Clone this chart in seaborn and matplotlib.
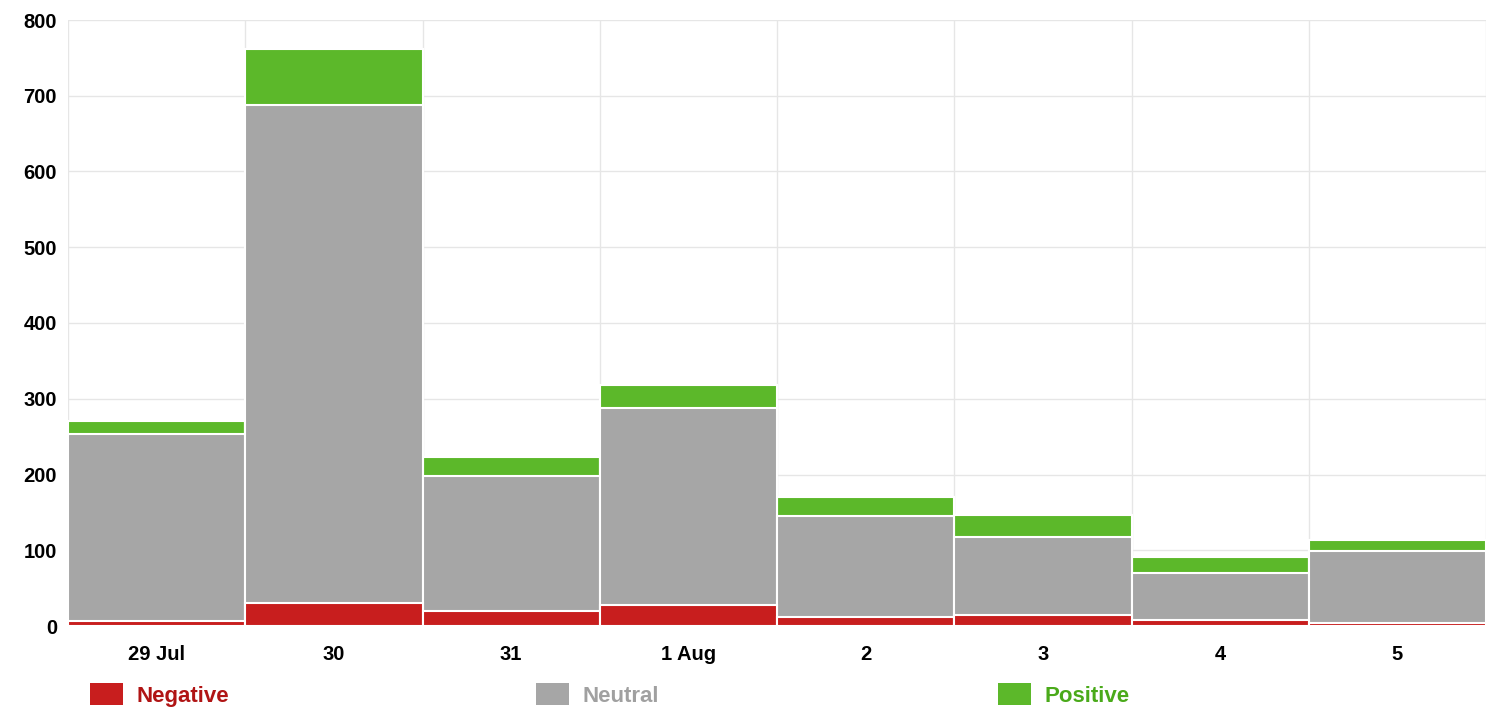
import numpy as np
import pandas as pd
import seaborn as sns
import matplotlib.pyplot as plt
from matplotlib.patches import Patch

days = ["29 Jul", "30", "31", "1 Aug", "2", "3", "4", "5"]
negative = [6, 30, 20, 28, 12, 15, 8, 4]
neutral = [247, 658, 178, 260, 133, 103, 62, 95]
positive = [17, 74, 25, 30, 25, 29, 21, 15]

colors = {"Negative": "#c81e1e", "Neutral": "#a6a6a6", "Positive": "#5cb82a"}
text_colors = {"Negative": "#b01414", "Neutral": "#a0a0a0", "Positive": "#4aaa1a"}

df = pd.DataFrame({"day": days, "Negative": negative, "Neutral": neutral, "Positive": positive})
df["Neutral_top"] = df["Negative"] + df["Neutral"]
df["Total"] = df["Neutral_top"] + df["Positive"]

sns.set_style("white")
plt.rcParams["font.family"] = ["Liberation Sans", "DejaVu Sans"]

fig = plt.figure(figsize=(14.86, 7.08), dpi=100)
ax = fig.add_axes([68 / 1486, 1 - 626 / 708, 1 - 68 / 1486, (626 - 20) / 708])

# layered bars: total, then negative+neutral, then negative
for col, name in [("Total", "Positive"), ("Neutral_top", "Neutral"), ("Negative", "Negative")]:
    sns.barplot(data=df, x="day", y=col, color=colors[name], width=1.0,
                edgecolor="white", linewidth=1.5, saturation=1, ax=ax, zorder=3)

ax.set_ylim(0, 800)
ax.set_xlim(-0.5, len(days) - 0.5)
ax.set_yticks(range(0, 801, 100))
ax.set_xlabel("")
ax.set_ylabel("")
for s in ax.spines.values():
    s.set_visible(False)
ax.grid(axis="y", color="#e6e6e6", linewidth=1, zorder=0)
for b in np.arange(-0.5, len(days), 1.0):
    ax.axvline(b, color="#e6e6e6", linewidth=1, zorder=0)
ax.tick_params(axis="both", length=0, labelsize=14.5, labelcolor="black", pad=8)
ax.tick_params(axis="x", pad=14)
for lbl in ax.get_xticklabels() + ax.get_yticklabels():
    lbl.set_fontweight("bold")

legend_x = {"Negative": 90 / 1486, "Neutral": 536 / 1486, "Positive": 998 / 1486}
for name, x in legend_x.items():
    leg = fig.legend(handles=[Patch(facecolor=colors[name], edgecolor="none")], labels=[name],
                     loc="center left", bbox_to_anchor=(x, 1 - 695 / 708), frameon=False,
                     handlelength=1.5, handleheight=1.1, handletextpad=0.6, borderpad=0,
                     borderaxespad=0, prop={"size": 16, "weight": "bold"})
    for t in leg.get_texts():
        t.set_color(text_colors[name])

fig.savefig("out.png", dpi=100)
